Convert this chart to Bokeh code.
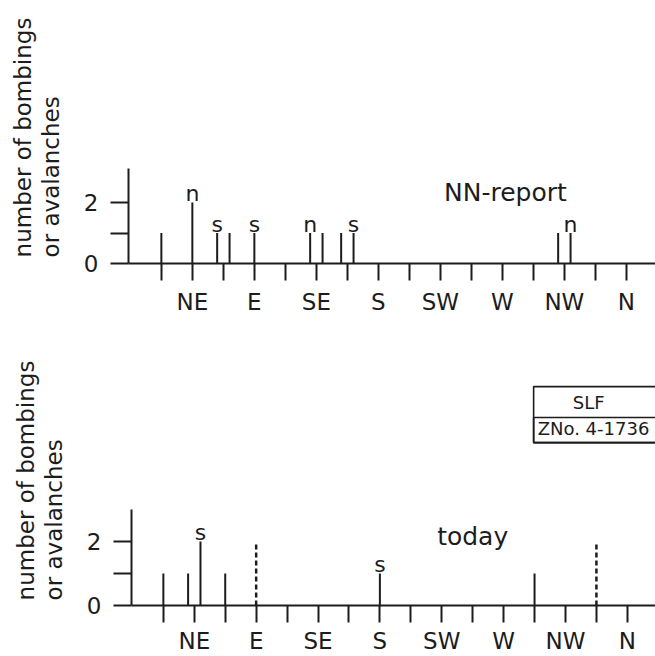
import math
from bokeh.plotting import figure
from bokeh.models import FixedTicker, Label, BoxAnnotation, ColumnDataSource, Range1d
from bokeh.layouts import column, row
from bokeh.embed import file_html
from bokeh.resources import INLINE
from bokeh.core.properties import value

# ---- data -------------------------------------------------------------
# 16-point compass, positions 1..16 (0 = N at the y axis)
directions = ["NNE", "NE", "ENE", "E", "ESE", "SE", "SSE", "S",
              "SSW", "SW", "WSW", "W", "WNW", "NW", "NNW", "N"]
tick_labels = ["", "NE", "", "E", "", "SE", "", "S",
               "", "SW", "", "W", "", "NW", "", "N"]
y_ticks = [0, 1, 2]
y_tick_labels = ["0", "", "2"]
y_title = ["number of bombings", "or avalanches"]

# NN-report panel
nn_pos = [1.0, 2.0, 2.8, 3.2, 4.0, 5.8, 6.2, 6.8, 7.2, 13.8, 14.2]
nn_count = [1, 2, 1, 1, 1, 1, 1, 1, 1, 1, 1]
nn_type = ["", "n", "s", "", "s", "n", "", "", "s", "", "n"]

# today panel
td_pos = [1.0, 1.8, 2.2, 3.0, 8.0, 13.0]
td_count = [1, 1, 2, 1, 1, 1]
td_type = ["", "", "s", "", "s", ""]
td_dash_pos = [4.0, 15.0]
td_dash_count = [2, 2]

INK = "#1c1c1c"
FONT = "DejaVu Sans"
LW = 66  # width of the strip holding the y-axis title


def title_strip(height, y_range, xs, y):
    s = figure(width=LW, height=height, title=None,
               x_range=Range1d(0, LW), y_range=y_range,
               x_axis_type=None, y_axis_type=None,
               toolbar_location=None, output_backend="svg",
               min_border=0, background_fill_color="white",
               border_fill_color="white", outline_line_color=None)
    s.xgrid.visible = False
    s.ygrid.visible = False
    s.text(x=list(xs), y=[y, y], text=y_title, angle=math.pi / 2,
           text_font=value(FONT), text_font_size="23px",
           text_align="left", text_baseline="middle", text_color=INK)
    return s


def make_panel(height, border_left, border_bottom, x_start, x_end, y_end,
               axis_top, x_standoff, pos, count, kind, title, title_xy,
               dash_pos=None, dash_count=None):
    p = figure(width=655 - LW, height=height, title=None,
               x_range=Range1d(x_start, x_end), y_range=Range1d(0, y_end),
               toolbar_location=None, output_backend="svg",
               min_border_left=border_left, min_border_right=0,
               min_border_top=0, min_border_bottom=border_bottom,
               background_fill_color="white", border_fill_color="white",
               outline_line_color=None)
    p.xgrid.visible = False
    p.ygrid.visible = False

    xa = p.xaxis[0]
    xa.ticker = FixedTicker(ticks=list(range(1, 17)))
    xa.major_label_overrides = {i + 1: lab for i, lab in enumerate(tick_labels)}
    xa.major_tick_out = 17
    xa.major_tick_in = 0
    xa.minor_tick_line_color = None
    xa.major_tick_line_width = 2
    xa.major_tick_line_color = INK
    xa.axis_line_width = 2
    xa.axis_line_color = INK
    xa.major_label_text_font = FONT
    xa.major_label_text_font_size = "23px"
    xa.major_label_text_color = INK
    xa.major_label_standoff = x_standoff

    ya = p.yaxis[0]
    ya.ticker = FixedTicker(ticks=y_ticks)
    ya.major_label_overrides = {t: l for t, l in zip(y_ticks, y_tick_labels)}
    ya.bounds = (0, axis_top)
    ya.major_tick_out = 18
    ya.major_tick_in = 0
    ya.minor_tick_line_color = None
    ya.major_tick_line_width = 2
    ya.major_tick_line_color = INK
    ya.axis_line_width = 2
    ya.axis_line_color = INK
    ya.major_label_text_font = FONT
    ya.major_label_text_font_size = "23px"
    ya.major_label_text_color = INK
    ya.major_label_standoff = 12
    ya.major_label_orientation = "horizontal"

    src = ColumnDataSource(dict(x=pos, h=count, t=kind))
    p.segment(x0="x", y0=0, x1="x", y1="h", source=src,
              line_width=2, line_color=INK, line_cap="butt")
    lab = [(x, h, t) for x, h, t in zip(pos, count, kind) if t]
    lsrc = ColumnDataSource(dict(x=[a[0] for a in lab], y=[a[1] for a in lab],
                                 t=[a[2] for a in lab]))
    p.text(x="x", y="y", text="t", source=lsrc, text_font=value(FONT),
           text_font_size="22px", text_align="center",
           text_baseline="alphabetic", y_offset=-9, text_color=INK)

    if dash_pos:
        dsrc = ColumnDataSource(dict(x=dash_pos, h=dash_count))
        p.segment(x0="x", y0=0, x1="x", y1="h", source=dsrc,
                  line_width=2.5, line_color=INK, line_dash="5 3",
                  line_cap="butt")

    p.add_layout(Label(x=title_xy[0], y=title_xy[1], text=title,
                       text_font=FONT, text_font_size="25px",
                       text_align="center", text_baseline="middle",
                       text_color=INK))
    return p


top = make_panel(320, 128 - LW, 57, -0.06, 16.94, 8.623, 3.1, 8,
                 nn_pos, nn_count, nn_type, "NN-report", (12.1, 2.33))
top_strip = title_strip(320, top.y_range, (22, 50), 0.2)

bottom = make_panel(336, 131 - LW, 51, -0.03, 16.91, 8.906, 3.0, 5,
                    td_pos, td_count, td_type, "today", (11.0, 2.16),
                    td_dash_pos, td_dash_count)
bottom_strip = title_strip(336, bottom.y_range, (25, 53), 0.16)

# archive stamp
for t in (6.84, 5.875):
    bottom.add_layout(BoxAnnotation(left=12.97, right=17.5, top=t, bottom=5.09,
                                    fill_color=None, fill_alpha=0,
                                    line_color=INK, line_alpha=1.0,
                                    line_width=1.6))
bottom.add_layout(Label(x=14.75, y=6.34, text="SLF", text_font=FONT,
                        text_font_size="18px", text_align="center",
                        text_baseline="middle", text_color=INK))
bottom.add_layout(Label(x=13.1, y=5.53, text="ZNo. 4-1736", text_font=FONT,
                        text_font_size="18px", text_align="left",
                        text_baseline="middle", text_color=INK))

layout = column(row(top_strip, top, spacing=0),
                row(bottom_strip, bottom, spacing=0), spacing=0)
open("out.html", "w").write(file_html(layout, INLINE))
